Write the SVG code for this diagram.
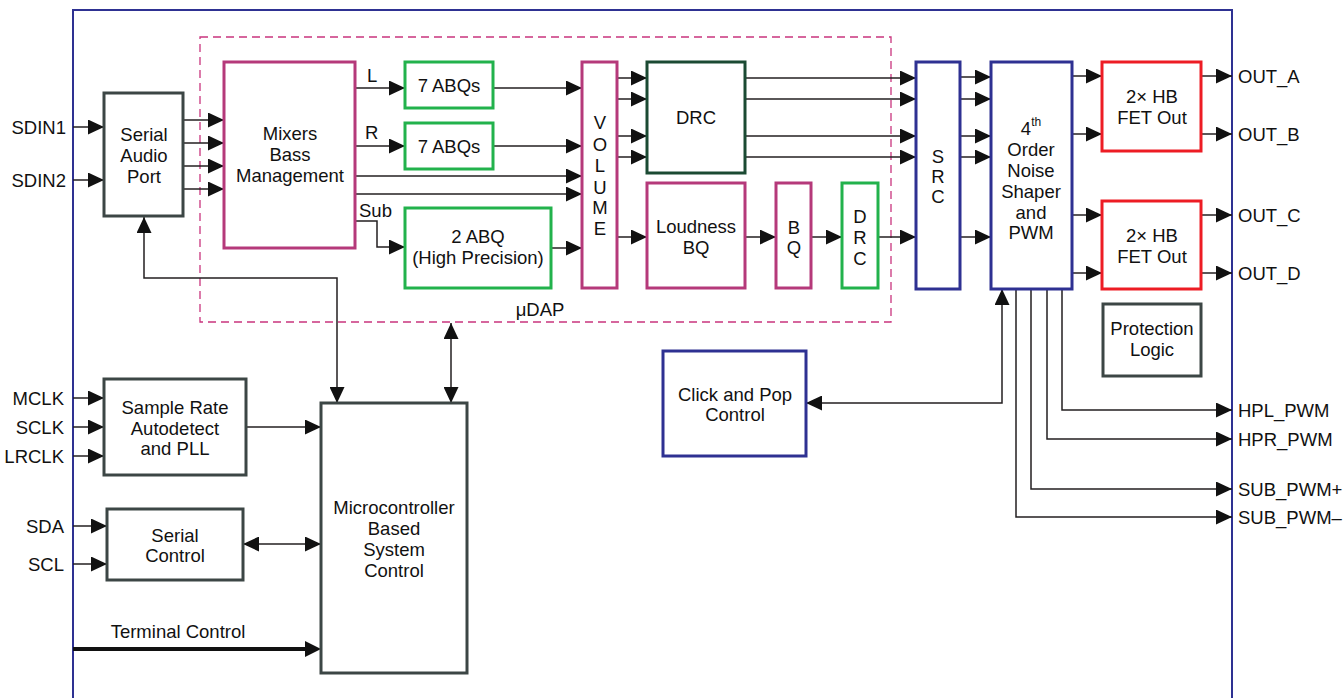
<svg xmlns="http://www.w3.org/2000/svg" width="1343" height="698" viewBox="0 0 1343 698">
<style>
text{font-family:"Liberation Sans",Arial,sans-serif;font-size:18.5px;fill:#111}
.c{text-anchor:middle}
.e{text-anchor:end}
.box{fill:#fff;stroke-width:3}
.pink{stroke:#b5397a}
.green{stroke:#22b24c}
.dgreen{stroke:#1b4a33}
.red{stroke:#ed1c24}
.blue{stroke:#2e3192}
.gray{stroke:#3c4645}
.ln{fill:none;stroke:#231f20;stroke-width:1.5}
.a{marker-end:url(#ah)}
.aa{marker-end:url(#ah);marker-start:url(#ahs)}
</style>
<defs>
<marker id="ah" markerUnits="userSpaceOnUse" markerWidth="16" markerHeight="15" refX="16" refY="7.5" orient="auto"><path d="M0,0 L16,7.5 L0,15 Z" fill="#111"/></marker>
<marker id="ahs" markerUnits="userSpaceOnUse" markerWidth="16" markerHeight="15" refX="16" refY="7.5" orient="auto-start-reverse"><path d="M0,0 L16,7.5 L0,15 Z" fill="#111"/></marker>
</defs>
<rect width="1343" height="698" fill="#fff"/>
<rect id="frame" x="73" y="10" width="1159" height="720" fill="none" stroke="#2e3192" stroke-width="2"/>
<g id="udap">
<rect x="200" y="37" width="691" height="285" fill="none" stroke="#c9357e" stroke-width="1.3" stroke-dasharray="8,5"/>
<text x="540" y="316" class="c">μDAP</text>
</g>
<g id="connectors">
<path class="ln a" d="M73,127 H104"/>
<path class="ln a" d="M73,180 H104"/>
<path class="ln a" d="M183,120 H224"/>
<path class="ln a" d="M183,143 H224"/>
<path class="ln a" d="M183,166 H224"/>
<path class="ln a" d="M183,189 H224"/>
<path class="ln a" d="M356,88 H405"/>
<path class="ln a" d="M356,146 H405"/>
<path class="ln a" d="M356,176 H582"/>
<path class="ln a" d="M356,194 H582"/>
<path class="ln a" d="M356,221 H377 V247 H405"/>
<path class="ln a" d="M493,88 H582"/>
<path class="ln a" d="M493,146 H582"/>
<path class="ln a" d="M551,248 H582"/>
<path class="ln a" d="M617,78 H647"/>
<path class="ln a" d="M617,99 H647"/>
<path class="ln a" d="M617,136 H647"/>
<path class="ln a" d="M617,157 H647"/>
<path class="ln a" d="M617,237 H647"/>
<path class="ln a" d="M745,78 H916"/>
<path class="ln a" d="M745,99 H916"/>
<path class="ln a" d="M745,136 H916"/>
<path class="ln a" d="M745,157 H916"/>
<path class="ln a" d="M745,237 H776"/>
<path class="ln a" d="M811,237 H842"/>
<path class="ln a" d="M878,237 H916"/>
<path class="ln a" d="M960,77 H991"/>
<path class="ln a" d="M960,99 H991"/>
<path class="ln a" d="M960,136 H991"/>
<path class="ln a" d="M960,157 H991"/>
<path class="ln a" d="M960,237 H991"/>
<path class="ln a" d="M1072,76 H1102"/>
<path class="ln a" d="M1072,134 H1102"/>
<path class="ln a" d="M1072,215 H1102"/>
<path class="ln a" d="M1072,273 H1102"/>
<path class="ln a" d="M1201,76 H1232"/>
<path class="ln a" d="M1201,134 H1232"/>
<path class="ln a" d="M1201,215 H1232"/>
<path class="ln a" d="M1201,273 H1232"/>
<path class="ln a" d="M1062,289 V410 H1232"/>
<path class="ln a" d="M1047,289 V439 H1232"/>
<path class="ln a" d="M1031,289 V489 H1232"/>
<path class="ln a" d="M1016,289 V517 H1232"/>
<path class="ln aa" d="M1002,289 V403 H806"/>
<path class="ln aa" d="M144,217 V278 H337 V403"/>
<path class="ln aa" d="M451,323 V403"/>
<path class="ln a" d="M73,398 H104"/>
<path class="ln a" d="M73,427 H104"/>
<path class="ln a" d="M73,456 H104"/>
<path class="ln a" d="M246,427 H321"/>
<path class="ln a" d="M73,526 H107"/>
<path class="ln a" d="M73,564 H107"/>
<path class="ln aa" d="M243,544 H321"/>
<path d="M73,649 H306" fill="none" stroke="#111" stroke-width="4"/>
<path d="M305,641 L321,649 L305,657 Z" fill="#111"/>
</g>
<g id="labels">
<text x="66" y="134" class="e">SDIN1</text>
<text x="66" y="187" class="e">SDIN2</text>
<text x="367" y="82">L</text>
<text x="365" y="139">R</text>
<text x="359" y="217">Sub</text>
<text x="64" y="405" class="e">MCLK</text>
<text x="64" y="434" class="e">SCLK</text>
<text x="64" y="463" class="e">LRCLK</text>
<text x="64" y="533" class="e">SDA</text>
<text x="64" y="571" class="e">SCL</text>
<text x="178" y="638" class="c">Terminal Control</text>
<text x="1238" y="83">OUT_A</text>
<text x="1238" y="141">OUT_B</text>
<text x="1238" y="222">OUT_C</text>
<text x="1238" y="280">OUT_D</text>
<text x="1238" y="417">HPL_PWM</text>
<text x="1238" y="446">HPR_PWM</text>
<text x="1238" y="496">SUB_PWM+</text>
<text x="1238" y="524">SUB_PWM–</text>
</g>
<g id="serial-audio-port">
<rect class="box gray" x="104" y="93" width="79" height="123"/>
<text class="c" x="144" y="141">Serial</text><text class="c" x="144" y="162">Audio</text><text class="c" x="144" y="183">Port</text>
</g>
<g id="mixers">
<rect class="box pink" x="224" y="62" width="131" height="186"/>
<text class="c" x="290" y="140">Mixers</text><text class="c" x="290" y="161">Bass</text><text class="c" x="290" y="182">Management</text>
</g>
<g id="abq-l">
<rect class="box green" x="405" y="62" width="88" height="46"/>
<text class="c" x="449" y="92">7 ABQs</text>
</g>
<g id="abq-r">
<rect class="box green" x="405" y="123" width="88" height="46"/>
<text class="c" x="449" y="153">7 ABQs</text>
</g>
<g id="abq-sub">
<rect class="box green" x="405" y="208" width="146" height="80"/>
<text class="c" x="478" y="243">2 ABQ</text><text class="c" x="478" y="264">(High Precision)</text>
</g>
<g id="volume">
<rect class="box pink" x="582" y="62" width="35" height="226"/>
<text class="c" x="600" y="129">V</text><text class="c" x="600" y="151">O</text><text class="c" x="600" y="172">L</text><text class="c" x="600" y="194">U</text><text class="c" x="600" y="214">M</text><text class="c" x="600" y="235">E</text>
</g>
<g id="drc">
<rect class="box dgreen" x="647" y="62" width="98" height="111"/>
<text class="c" x="696" y="124">DRC</text>
</g>
<g id="loudness">
<rect class="box pink" x="647" y="183" width="98" height="105"/>
<text class="c" x="696" y="233">Loudness</text><text class="c" x="696" y="254">BQ</text>
</g>
<g id="bq">
<rect class="box pink" x="776" y="183" width="35" height="105"/>
<text class="c" x="794" y="234">B</text><text class="c" x="794" y="254">Q</text>
</g>
<g id="drc2">
<rect class="box green" x="842" y="183" width="36" height="105"/>
<text class="c" x="860" y="223">D</text><text class="c" x="860" y="244">R</text><text class="c" x="860" y="265">C</text>
</g>
<g id="src">
<rect class="box blue" x="916" y="62" width="44" height="227"/>
<text class="c" x="938" y="163">S</text><text class="c" x="938" y="183">R</text><text class="c" x="938" y="203">C</text>
</g>
<g id="noise-shaper">
<rect class="box blue" x="991" y="62" width="81" height="227"/>
<text class="c" x="1031" y="135">4<tspan font-size="12" dy="-9">th</tspan></text>
<text class="c" x="1031" y="156">Order</text><text class="c" x="1031" y="177">Noise</text><text class="c" x="1031" y="198">Shaper</text><text class="c" x="1031" y="219">and</text><text class="c" x="1031" y="239">PWM</text>
</g>
<g id="fet1">
<rect class="box red" x="1102" y="62" width="99" height="89"/>
<text class="c" x="1152" y="103">2× HB</text><text class="c" x="1152" y="124">FET Out</text>
</g>
<g id="fet2">
<rect class="box red" x="1102" y="201" width="99" height="88"/>
<text class="c" x="1152" y="242">2× HB</text><text class="c" x="1152" y="263">FET Out</text>
</g>
<g id="protection">
<rect class="box gray" x="1103" y="304" width="98" height="72"/>
<text class="c" x="1152" y="335">Protection</text><text class="c" x="1152" y="356">Logic</text>
</g>
<g id="click-pop">
<rect class="box blue" x="663" y="351" width="143" height="105"/>
<text class="c" x="735" y="401">Click and Pop</text><text class="c" x="735" y="421">Control</text>
</g>
<g id="sample-rate">
<rect class="box gray" x="104" y="379" width="142" height="96"/>
<text class="c" x="175" y="414">Sample Rate</text><text class="c" x="175" y="435">Autodetect</text><text class="c" x="175" y="455">and PLL</text>
</g>
<g id="serial-control">
<rect class="box gray" x="107" y="509" width="136" height="71"/>
<text class="c" x="175" y="542">Serial</text><text class="c" x="175" y="562">Control</text>
</g>
<g id="microcontroller">
<rect class="box gray" x="321" y="403" width="146" height="270"/>
<text class="c" x="394" y="514">Microcontroller</text><text class="c" x="394" y="535">Based</text><text class="c" x="394" y="556">System</text><text class="c" x="394" y="577">Control</text>
</g>
</svg>
